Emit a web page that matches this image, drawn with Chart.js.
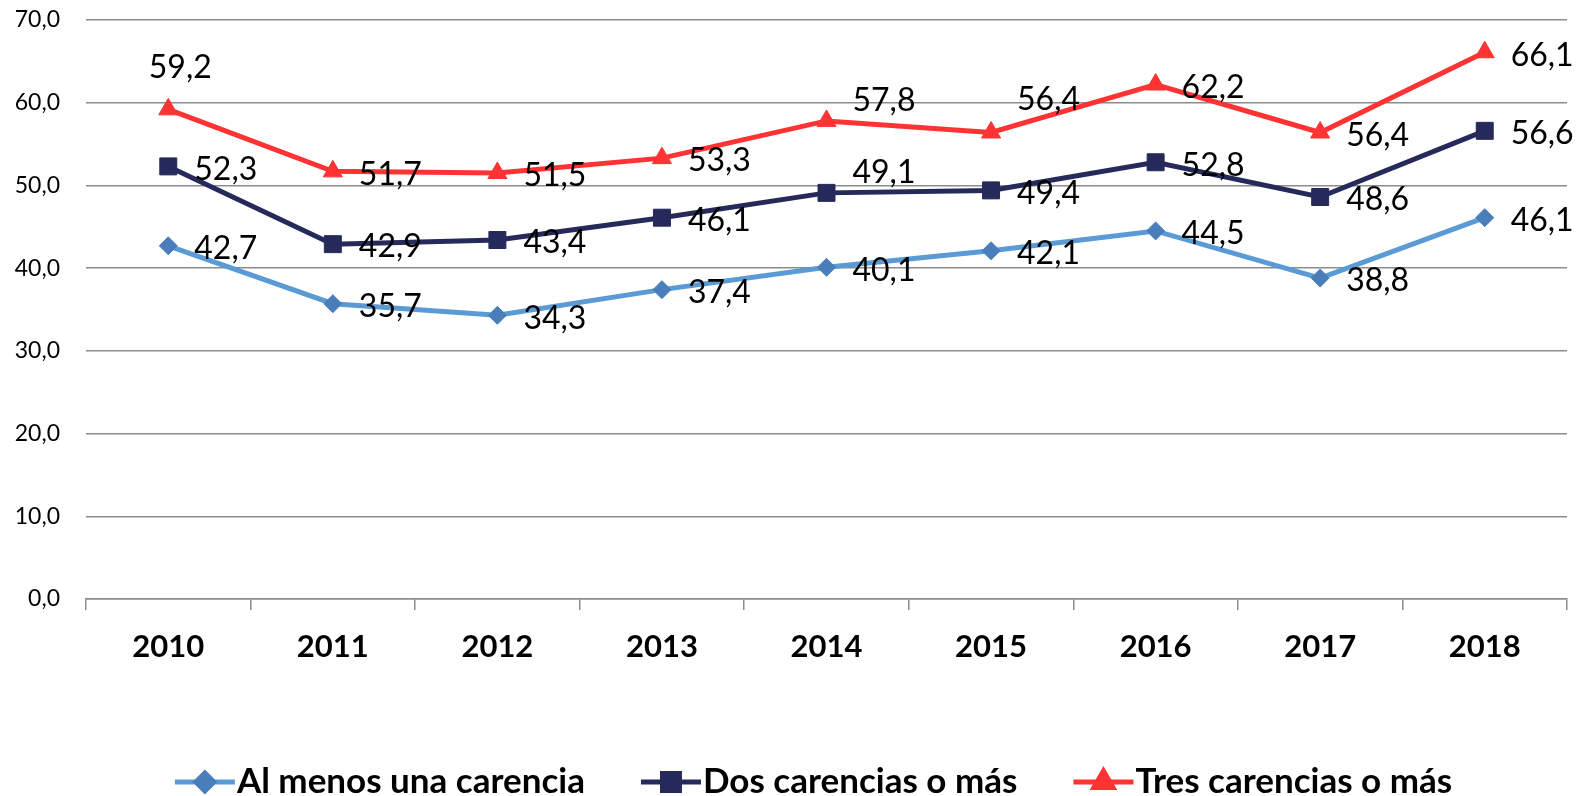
<!DOCTYPE html>
<html>
<head>
<meta charset="utf-8">
<script src="https://cdn.jsdelivr.net/npm/chart.js@4.4.1/dist/chart.umd.min.js"></script>
<style>
  body { margin: 0; background: #fff; }
  canvas { display: block; }
</style>
</head>
<body>
<canvas id="grafico" width="1583" height="796"></canvas>
<script>
const anios = ["2010", "2011", "2012", "2013", "2014", "2015", "2016", "2017", "2018"]
const alMenosUna = [42.7, 35.7, 34.3, 37.4, 40.1, 42.1, 44.5, 38.8, 46.1]
const dosOMas = [52.3, 42.9, 43.4, 46.1, 49.1, 49.4, 52.8, 48.6, 56.6]
const tresOMas = [59.2, 51.7, 51.5, 53.3, 57.8, 56.4, 62.2, 56.4, 66.1]
const nombresSeries = ["Al menos una carencia", "Dos carencias o más", "Tres carencias o más"]

const fuente = "Lato, 'Open Sans', sans-serif"
const coma = (v) => v.toFixed(1).replace(".", ",")

// donde va cada etiqueta respecto al punto
const posAzul = ["der", "der", "der", "der", "der", "der", "der", "der", "der"]
const posOscuro = ["der", "der", "der", "der", "arribaDer", "der", "der", "der", "der"]
const posRojo = ["arriba", "der", "der", "der", "arribaDer", "arribaDer2", "der", "der", "der"]

const datasets = [
  {
    label: nombresSeries[0],
    data: alMenosUna,
    borderColor: "#5b9bd5",
    backgroundColor: "#4a7ebb",
    pointBackgroundColor: "#4a7ebb",
    pointBorderColor: "#4a7ebb",
    pointStyle: "rectRot",
    pointRadius: 9,
    posiciones: posAzul,
  },
  {
    label: nombresSeries[1],
    data: dosOMas,
    borderColor: "#262a5a",
    backgroundColor: "#262a5a",
    pointBackgroundColor: "#262a5a",
    pointBorderColor: "#262a5a",
    pointStyle: "rect",
    pointRadius: 12,
    posiciones: posOscuro,
  },
  {
    label: nombresSeries[2],
    data: tresOMas,
    borderColor: "#ff3333",
    backgroundColor: "#ff3333",
    pointBackgroundColor: "#ff3333",
    pointBorderColor: "#ff3333",
    pointStyle: "triangle",
    pointRadius: 11,
    posiciones: posRojo,
  },
]
datasets.forEach((d) => {
  d.borderWidth = 5
  d.pointBorderWidth = 1
  d.pointHoverRadius = d.pointRadius
  d.tension = 0
})

const etiquetas = {
  id: "etiquetas",
  afterDatasetsDraw(chart) {
    const ctx = chart.ctx
    ctx.save()
    ctx.fillStyle = "#000"
    ctx.font = "32px " + fuente
    ctx.textBaseline = "middle"
    chart.data.datasets.forEach((ds, i) => {
      const meta = chart.getDatasetMeta(i)
      meta.data.forEach((p, j) => {
        const txt = coma(ds.data[j])
        const pos = ds.posiciones[j]
        if (pos === "arriba") {
          ctx.textAlign = "center"
          ctx.fillText(txt, p.x + 12, p.y - 42)
        } else {
          ctx.textAlign = "left"
          let dy = 3
          if (pos === "arribaDer") dy = -20
          if (pos === "arribaDer2") dy = -33
          ctx.fillText(txt, p.x + 26, p.y + dy)
        }
      })
    })
    ctx.restore()
  },
}

const leyenda = {
  id: "leyenda",
  afterDraw(chart) {
    const ctx = chart.ctx
    const y = 782
    const largoLinea = 60
    const separacion = 56
    ctx.save()
    ctx.font = "bold 35px " + fuente
    const anchos = chart.data.datasets.map((ds) => largoLinea + 2 + ctx.measureText(ds.label).width)
    const total = anchos.reduce((a, b) => a + b, 0) + separacion * (anchos.length - 1)
    let x = (chart.width - total) / 2 + 22
    chart.data.datasets.forEach((ds, i) => {
      ctx.strokeStyle = ds.borderColor
      ctx.lineWidth = 5
      ctx.beginPath()
      ctx.moveTo(x, y)
      ctx.lineTo(x + largoLinea, y)
      ctx.stroke()
      ctx.fillStyle = ds.pointBackgroundColor
      ctx.strokeStyle = ds.pointBorderColor
      Chart.helpers.drawPoint(ctx, { pointStyle: ds.pointStyle, rotation: 0, radius: ds.pointRadius, borderWidth: 1 }, x + largoLinea / 2, y)
      ctx.fillStyle = "#000"
      ctx.textAlign = "left"
      ctx.textBaseline = "middle"
      ctx.fillText(ds.label, x + largoLinea + 2, y)
      x += anchos[i] + separacion
    })
    ctx.restore()
  },
}

const grafico = new Chart(document.getElementById("grafico"), {
  type: "line",
  data: { labels: anios, datasets },
  options: {
    responsive: false,
    devicePixelRatio: 1,
    animation: false,
    layout: { padding: { top: 20, right: 16, bottom: 117, left: 0 } },
    plugins: {
      legend: { display: false },
      tooltip: { enabled: false },
    },
    scales: {
      x: {
        offset: true,
        grid: { offset: true, drawOnChartArea: false, tickLength: 11, color: "#8c8c8c", lineWidth: 1.5 },
        border: { color: "#8c8c8c", width: 1.5 },
        ticks: { color: "#000", font: { family: fuente, size: 31, weight: "bold" }, padding: 18 },
        afterFit: (s) => { s.height = 80 },
      },
      y: {
        min: 0,
        max: 70,
        ticks: {
          stepSize: 10,
          color: "#000",
          padding: 26,
          font: { family: fuente, size: 23 },
          callback: (v) => coma(v),
        },
        grid: { color: "#8c8c8c", lineWidth: 1.5, drawTicks: false },
        border: { display: false },
        afterFit: (s) => {
          s.width = 86
          s.paddingTop = 0
          s.paddingBottom = 0
        },
      },
    },
  },
  plugins: [etiquetas, leyenda],
})
</script>
</body>
</html>
